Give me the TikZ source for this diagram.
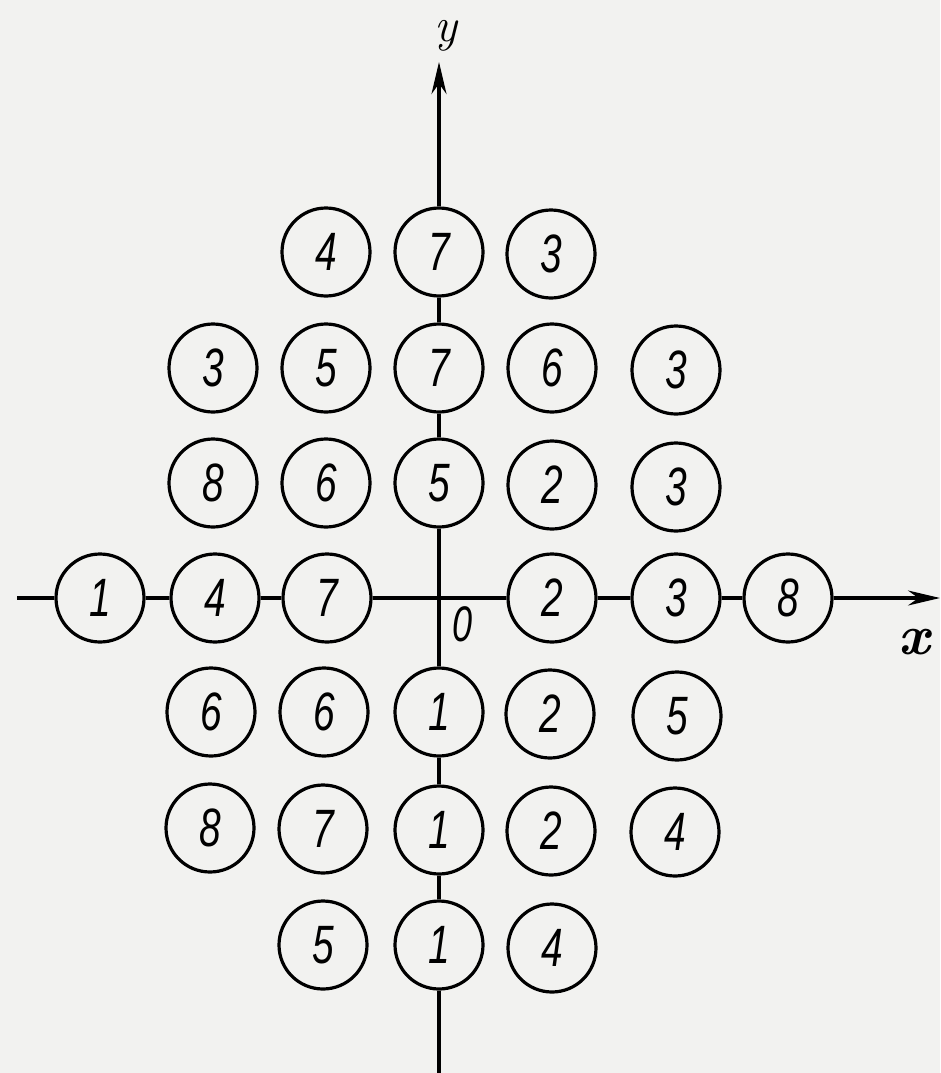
\documentclass[tikz,border=0pt]{standalone}
\usepackage{fontspec}
\newfontfamily\digfont{Liberation Sans}
\usetikzlibrary{arrows.meta}
\definecolor{paper}{RGB}{242,242,240}
\newcommand{\dg}[1]{\scalebox{0.72}[1]{#1}}
\tikzset{
  disc/.style={circle, draw, line width=3.2pt, fill=paper, minimum size=88pt, inner sep=0pt,
    font=\fontsize{54}{54}\selectfont\digfont\itshape},
  axisline/.style={line width=3.2pt},
  tip/.style={-{Stealth[length=32pt,width=15pt]}},
}
\begin{document}
\begin{tikzpicture}[x=1pt,y=-1pt]
\fill[paper] (0,0) rectangle (940,1073);
\useasboundingbox (0,0) rectangle (940,1073);
% row 1
\node[disc] (n12) at (326,252) {\dg{4}};
\node[disc] (n14) at (439,252) {\dg{7}};
\node[disc] (n15) at (551,254) {\dg{3}};
% row 2
\node[disc] (n21) at (213,368) {\dg{3}};
\node[disc] (n22) at (326,368) {\dg{5}};
\node[disc] (n24) at (439,368) {\dg{7}};
\node[disc] (n25) at (552,368) {\dg{6}};
\node[disc] (n26) at (676,370) {\dg{3}};
% row 3
\node[disc] (n31) at (213,483) {\dg{8}};
\node[disc] (n32) at (326,483) {\dg{6}};
\node[disc] (n34) at (439,483) {\dg{5}};
\node[disc] (n35) at (552,485) {\dg{2}};
\node[disc] (n36) at (676,487) {\dg{3}};
% row 4 (x axis)
\node[disc] (n40) at (100,598) {\dg{1}};
\node[disc] (n41) at (215,598) {\dg{4}};
\node[disc] (n42) at (327,598) {\dg{7}};
\node[disc] (n45) at (552,598) {\dg{2}};
\node[disc] (n46) at (676,598) {\dg{3}};
\node[disc] (n47) at (788,598) {\dg{8}};
% row 5
\node[disc] (n51) at (211,712) {\dg{6}};
\node[disc] (n52) at (324,712) {\dg{6}};
\node[disc] (n54) at (439,712) {\dg{1}};
\node[disc] (n55) at (550,714) {\dg{2}};
\node[disc] (n56) at (677,716) {\dg{5}};
% row 6
\node[disc] (n61) at (210,828) {\dg{8}};
\node[disc] (n62) at (323,829) {\dg{7}};
\node[disc] (n64) at (439,830) {\dg{1}};
\node[disc] (n65) at (551,831) {\dg{2}};
\node[disc] (n66) at (675,832) {\dg{4}};
% row 7
\node[disc] (n72) at (323,945) {\dg{5}};
\node[disc] (n74) at (439,945) {\dg{1}};
\node[disc] (n75) at (552,948) {\dg{4}};
% axes ends
\coordinate (ybot) at (439,1073);
\coordinate (ytop) at (439,62);
\coordinate (xleft) at (17,598);
\coordinate (xright) at (940,598);
% y axis
\draw[axisline,tip] (ybot) -- (n74) -- (n64) -- (n54) -- (n34) -- (n24) -- (n14) -- (ytop);
% x axis
\draw[axisline,tip] (xleft) -- (n40) -- (n41) -- (n42) -- (n45) -- (n46) -- (n47) -- (xright);
% labels
\node[font=\fontsize{48}{48}\selectfont\itshape] (ylab) at (446,36) {y};
\node[font=\fontsize{56}{56}\selectfont\bfseries\itshape] (xlab) at (914,642) {x};
\node[font=\fontsize{50}{50}\selectfont\digfont\itshape] (olab) at (463,624) {\dg{0}};
\end{tikzpicture}
\end{document}
